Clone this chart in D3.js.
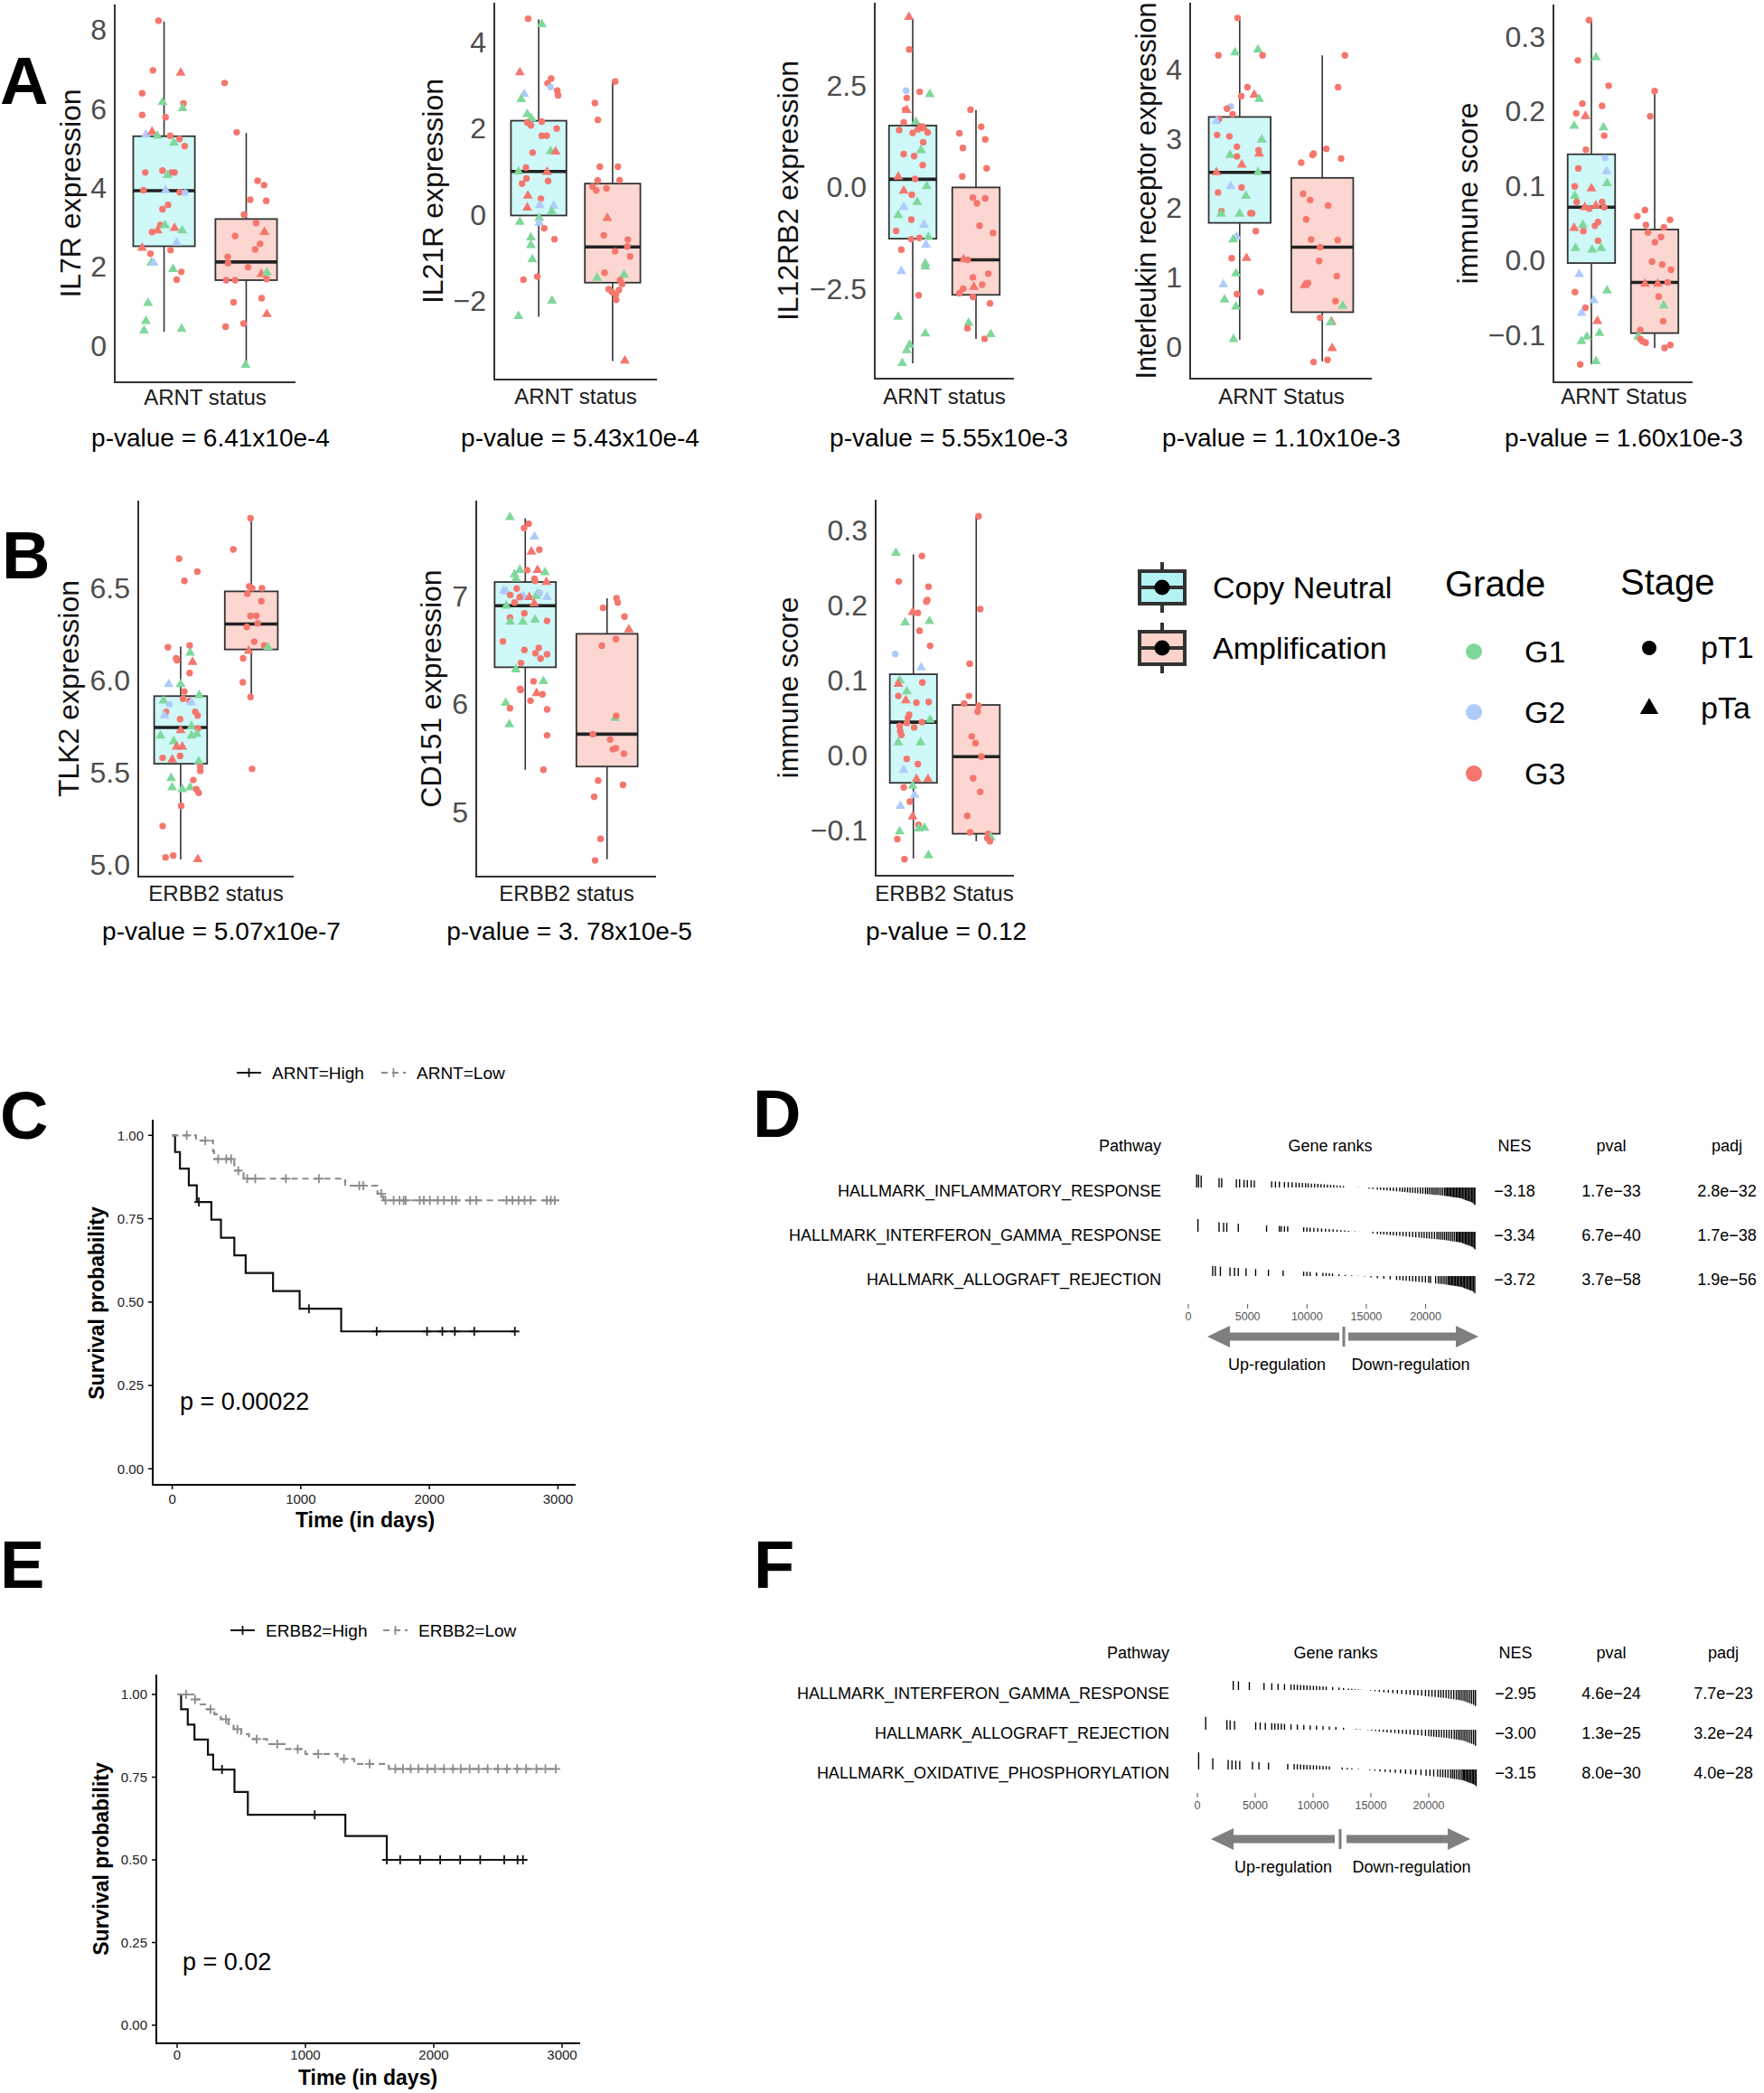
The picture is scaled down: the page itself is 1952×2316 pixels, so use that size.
<!DOCTYPE html>
<html>
<head>
<meta charset="utf-8">
<script src="https://cdn.jsdelivr.net/npm/d3@7"></script>
<style>
  body { margin: 0; background: #fff; }
  svg text { font-family: "Liberation Sans", Arial, sans-serif; }
</style>
</head>
<body>
<div id="fig"></div>
<script>
// ---------- data: box plots (point = [jitter in box half-widths, value, grade+stage]) ----------
const statusNames = ["Copy Neutral", "Amplification"];
const gradeNames = ["G1", "G2", "G3"];
const stageNames = ["pT1", "pTa"];

// box stats: [lower whisker, q1, median, q3, upper whisker]
const il7rBox = [[0.34, 2.51, 3.92, 5.30, 8.21], [-0.50, 1.65, 2.11, 3.20, 5.38]];
const il21rBox = [[-2.38, -0.03, 0.99, 2.17, 4.52], [-3.41, -1.59, -0.76, 0.71, 3.09]];
const il12rb2Box = [[-4.33, -1.27, 0.19, 1.51, 4.14], [-3.73, -2.65, -1.79, -0.01, 1.89]];
const ilrBox = [[0.09, 1.78, 2.51, 3.31, 4.74], [-0.22, 0.49, 1.43, 2.43, 4.20]];
const immArntBox = [[-0.140, -0.004, 0.071, 0.142, 0.322], [-0.118, -0.098, -0.030, 0.041, 0.227]];
const tlk2Box = [[5.029, 5.548, 5.745, 5.915, 6.183], [5.910, 6.168, 6.306, 6.483, 6.874]];
const cd151Box = [[5.39, 6.34, 6.91, 7.13, 7.72], [4.56, 5.42, 5.72, 6.65, 6.98]];
const immErbbBox = [[-0.138, -0.037, 0.044, 0.108, 0.268], [-0.115, -0.105, -0.002, 0.067, 0.319]];

const il7rCN = [[-0.18,8.23,"3o"],[-0.36,6.97,"3o"],[0.54,6.91,"3t"],[-0.71,6.39,"3o"],[-0.05,6.16,"1t"],[0.63,6.13,"3o"],[0.60,6.01,"1t"],[-0.71,5.84,"3o"],[0.05,5.78,"3o"],[-0.59,5.34,"2t"],[-0.39,5.41,"3t"],[-0.22,5.31,"1t"],[0.20,5.31,"3o"],[0.50,5.23,"3o"],[0.32,5.13,"1t"],[0.67,5.05,"3o"],[-0.61,4.38,"3o"],[-0.05,4.43,"3o"],[0.24,4.38,"3o"],[0.34,4.38,"3o"],[0.11,4.31,"1t"],[-0.67,3.93,"3o"],[0.05,3.93,"2t"],[0.51,3.88,"3o"],[0.68,3.87,"2o"],[0.13,3.56,"3o"],[-0.05,3.45,"3o"],[-0.12,3.05,"3o"],[0.03,3.04,"1t"],[-0.21,2.91,"3t"],[-0.39,2.87,"3o"],[0.34,2.97,"3t"],[0.59,2.91,"1t"],[0.41,2.60,"2t"],[-0.71,2.47,"3t"],[0.21,2.41,"3o"],[-0.44,2.32,"3o"],[-0.41,2.09,"1t"],[-0.34,2.09,"2t"],[0.29,1.93,"1t"],[0.56,1.86,"3o"],[0.41,1.66,"3o"],[-0.52,1.07,"1t"],[-0.59,0.61,"1t"],[-0.65,0.37,"1t"],[0.57,0.41,"1t"]];
const il7rAmp = [[-0.70,6.65,"3o"],[-0.31,5.40,"3o"],[0.37,4.17,"3o"],[0.58,4.06,"3o"],[0.13,3.69,"3o"],[0.65,3.66,"3o"],[-0.07,3.31,"3o"],[0.32,3.10,"3o"],[0.59,2.87,"3t"],[-0.36,2.77,"3o"],[0.45,2.57,"3o"],[0.29,2.43,"3o"],[-0.60,2.24,"3o"],[-0.59,2.08,"3o"],[0.06,1.98,"3o"],[0.49,1.80,"3t"],[0.67,1.84,"1t"],[-0.65,1.65,"3o"],[-0.36,1.65,"3o"],[0.66,1.68,"3o"],[-0.41,1.09,"3o"],[0.50,1.19,"3o"],[0.67,0.79,"3t"],[-0.67,0.47,"3o"],[-0.09,0.55,"3o"],[-0.02,-0.50,"1t"]];

const il21rCN = [[-0.38,4.54,"3o"],[0.11,4.41,"1t"],[-0.68,3.29,"3t"],[0.32,3.04,"3o"],[0.45,3.15,"3o"],[0.43,2.95,"2o"],[0.67,2.87,"3o"],[0.70,2.76,"3o"],[-0.52,2.79,"2t"],[-0.63,2.67,"1t"],[-0.41,2.32,"1t"],[-0.27,2.23,"1t"],[-0.41,2.13,"3o"],[-0.28,2.06,"3o"],[0.11,2.15,"3o"],[0.65,1.99,"3o"],[0.11,1.82,"3o"],[0.29,1.82,"3o"],[-0.22,1.43,"3o"],[0.43,1.46,"1t"],[0.61,1.45,"3t"],[-0.46,1.08,"3o"],[-0.73,0.99,"1t"],[0.30,0.98,"3t"],[-0.44,0.83,"3o"],[-0.60,0.71,"3o"],[0.34,0.77,"3o"],[-0.39,0.43,"3t"],[0.08,0.36,"3o"],[-0.41,0.15,"3t"],[0.04,0.21,"2t"],[0.54,0.19,"2t"],[0.47,0.06,"1t"],[0.02,-0.09,"1t"],[0.02,-0.20,"2t"],[-0.68,-0.18,"1t"],[0.20,-0.33,"3o"],[-0.28,-0.54,"1t"],[0.57,-0.58,"3o"],[-0.28,-0.72,"1t"],[-0.23,-1.05,"1t"],[-0.05,-1.45,"3o"],[-0.55,-1.52,"3o"],[0.48,-2.01,"1t"],[-0.73,-2.37,"1t"]];
const il21rAmp = [[0.09,3.08,"3o"],[-0.64,2.58,"3o"],[-0.53,2.19,"3o"],[-0.46,1.10,"3o"],[0.19,1.10,"3o"],[-0.54,0.78,"3o"],[0.25,0.79,"3o"],[-0.72,0.64,"3o"],[-0.59,0.55,"3o"],[-0.22,0.60,"3o"],[-0.19,-0.09,"3t"],[-0.32,-0.49,"3o"],[0.55,-0.59,"3o"],[0.53,-0.75,"3o"],[0.09,-0.86,"3o"],[0.63,-0.98,"3o"],[-0.29,-1.36,"3o"],[0.41,-1.41,"1t"],[-0.56,-1.48,"1t"],[0.27,-1.53,"3o"],[0.34,-1.62,"3o"],[-0.14,-1.74,"3o"],[-0.02,-1.81,"3o"],[0.23,-1.76,"3o"],[0.12,-1.87,"3o"],[0.13,-1.99,"3o"],[0.44,-3.40,"3t"]];

const il12rb2CN = [[-0.16,4.18,"3t"],[-0.15,3.38,"3o"],[-0.28,2.37,"2o"],[0.29,2.34,"3o"],[0.72,2.28,"1t"],[-0.25,2.19,"3o"],[-0.32,1.90,"3o"],[-0.25,1.89,"3t"],[0.13,1.60,"1t"],[-0.38,1.59,"3o"],[0.35,1.49,"3o"],[-0.57,1.40,"3o"],[0.0,1.33,"3o"],[0.22,1.42,"3o"],[0.48,1.44,"3t"],[0.63,1.34,"3o"],[0.44,1.10,"3o"],[0.35,0.90,"1t"],[-0.38,0.81,"3o"],[0.06,0.76,"3o"],[0.42,0.54,"3o"],[-0.61,0.25,"3t"],[0.10,0.20,"3o"],[0.59,0.02,"1t"],[-0.38,-0.09,"3t"],[-0.04,-0.19,"3o"],[0.19,-0.37,"1t"],[-0.38,-0.49,"2t"],[-0.61,-0.69,"1t"],[-0.06,-0.80,"3o"],[0.47,-0.93,"2t"],[-0.70,-1.08,"3o"],[-0.06,-1.28,"3o"],[0.28,-1.25,"3o"],[0.66,-1.23,"1t"],[-0.48,-1.54,"3o"],[0.56,-1.42,"2t"],[0.53,-1.88,"1t"],[0.53,-1.96,"1t"],[-0.48,-2.07,"2t"],[0.25,-2.66,"3o"],[-0.61,-3.19,"1t"],[0.53,-3.60,"1t"],[-0.13,-3.88,"1t"],[-0.25,-4.01,"1t"],[-0.44,-4.33,"1t"]];
const il12rb2Amp = [[-0.23,1.90,"3o"],[0.22,1.48,"3o"],[-0.70,1.32,"3o"],[0.39,1.17,"3o"],[-0.55,0.96,"3o"],[0.45,0.46,"3o"],[-0.58,0.26,"3o"],[-0.13,-0.26,"3o"],[0.04,-0.40,"3o"],[0.39,-0.28,"3o"],[0.15,-0.95,"3o"],[0.72,-1.13,"3o"],[-0.52,-1.78,"3t"],[-0.35,-1.79,"3o"],[0.52,-2.13,"3o"],[-0.13,-2.22,"3o"],[0.26,-2.40,"3o"],[-0.09,-2.46,"3t"],[-0.54,-2.50,"3o"],[-0.70,-2.61,"3o"],[-0.13,-2.70,"3o"],[0.59,-2.86,"3o"],[-0.31,-3.34,"1t"],[-0.36,-3.47,"3o"],[0.36,-3.73,"3o"],[0.62,-3.62,"1t"]];

const ilrCN = [[-0.07,4.74,"3o"],[-0.69,4.20,"3o"],[-0.15,4.24,"1t"],[0.59,4.28,"1t"],[0.74,4.20,"3o"],[0.25,3.74,"3o"],[0.05,3.61,"3o"],[0.47,3.63,"3t"],[0.63,3.57,"1t"],[-0.29,3.46,"2o"],[-0.41,3.43,"3o"],[-0.23,3.35,"3o"],[-0.67,3.28,"3o"],[-0.75,3.25,"2t"],[-0.73,3.05,"3o"],[-0.33,3.03,"3o"],[0.71,2.98,"1t"],[-0.09,2.88,"3o"],[0.61,2.83,"3o"],[0.63,2.78,"3t"],[-0.31,2.76,"1t"],[-0.09,2.74,"3o"],[0.07,2.62,"3t"],[-0.75,2.51,"3t"],[0.59,2.51,"1t"],[-0.29,2.31,"2t"],[0.06,2.29,"3o"],[0.20,2.17,"1t"],[-0.70,2.22,"3o"],[-0.59,1.95,"3o"],[-0.60,1.91,"1t"],[0.0,1.91,"1t"],[0.35,1.92,"3o"],[0.40,1.92,"3o"],[0.52,1.66,"3o"],[-0.10,1.58,"2t"],[-0.21,1.54,"1t"],[-0.26,1.27,"3o"],[0.22,1.27,"3t"],[-0.12,1.05,"1t"],[-0.53,0.89,"2t"],[-0.09,0.75,"3o"],[0.68,0.78,"3o"],[-0.49,0.67,"1t"],[-0.12,0.57,"1t"],[-0.20,0.10,"1t"]];
const ilrAmp = [[0.73,4.20,"3o"],[0.51,3.74,"3o"],[0.13,2.85,"3o"],[-0.31,2.76,"3o"],[-0.28,2.78,"3o"],[-0.68,2.65,"3o"],[0.61,2.71,"3o"],[-0.62,2.20,"3o"],[-0.39,2.11,"3o"],[0.19,2.03,"3o"],[-0.52,1.83,"3o"],[-0.36,1.54,"3o"],[0.50,1.53,"3o"],[-0.07,1.43,"3o"],[-0.10,1.23,"3o"],[0.47,1.01,"3o"],[-0.46,0.91,"3o"],[-0.57,0.88,"3t"],[0.43,0.65,"3o"],[0.66,0.58,"1t"],[-0.07,0.41,"3o"],[0.30,0.35,"3t"],[0.27,0.34,"1t"],[0.32,-0.03,"3t"],[-0.28,-0.23,"3o"],[0.17,-0.20,"3o"]];

const immArntCN = [[-0.10,0.322,"3o"],[0.19,0.272,"1t"],[-0.57,0.268,"3o"],[0.73,0.234,"3o"],[-0.38,0.210,"3o"],[0.45,0.207,"3o"],[-0.64,0.197,"3o"],[-0.25,0.193,"3t"],[-0.73,0.180,"1t"],[0.51,0.178,"1t"],[0.54,0.167,"3o"],[-0.23,0.148,"3o"],[0.57,0.137,"2o"],[-0.55,0.123,"3o"],[0.64,0.119,"2t"],[0.66,0.103,"1t"],[-0.70,0.099,"3o"],[0.0,0.096,"3t"],[-0.70,0.086,"1t"],[-0.62,0.078,"3o"],[0.45,0.078,"3o"],[-0.28,0.071,"3t"],[-0.09,0.069,"3o"],[0.19,0.073,"3t"],[0.54,0.071,"3o"],[0.28,0.051,"3o"],[-0.36,0.047,"1t"],[0.15,0.046,"3o"],[-0.73,0.043,"3t"],[-0.34,0.039,"3o"],[0.28,0.026,"3o"],[-0.67,0.016,"1t"],[0.03,0.014,"1t"],[0.41,0.016,"1t"],[-0.51,-0.019,"2t"],[0.66,-0.041,"1t"],[-0.69,-0.043,"3o"],[0.10,-0.054,"2t"],[-0.25,-0.064,"3o"],[-0.41,-0.071,"2t"],[0.25,-0.082,"3t"],[0.34,-0.098,"1t"],[-0.19,-0.103,"1t"],[-0.42,-0.109,"1t"],[-0.47,-0.140,"3o"],[0.19,-0.136,"1t"]];
const immArntAmp = [[0.0,0.227,"3o"],[-0.19,0.193,"3o"],[-0.41,0.067,"3o"],[-0.73,0.059,"3o"],[0.65,0.054,"3o"],[-0.37,0.047,"3o"],[0.39,0.044,"3o"],[-0.28,0.037,"3o"],[0.27,0.031,"3o"],[0.01,0.024,"3o"],[-0.11,-0.002,"3o"],[0.32,-0.006,"3o"],[0.69,-0.013,"3o"],[-0.41,-0.032,"3t"],[0.13,-0.032,"3t"],[0.55,-0.030,"3o"],[0.17,-0.049,"3o"],[0.38,-0.061,"1t"],[0.36,-0.082,"3o"],[-0.61,-0.094,"3o"],[-0.70,-0.103,"1t"],[-0.60,-0.106,"3o"],[-0.50,-0.109,"3o"],[-0.38,-0.111,"3o"],[0.42,-0.118,"3o"],[0.66,-0.114,"3o"]];

const tlk2CN = [[-0.06,6.66,"3o"],[0.63,6.59,"3o"],[0.14,6.54,"3o"],[-0.48,6.18,"3o"],[0.34,6.19,"3o"],[-0.17,6.12,"3o"],[-0.14,6.11,"3o"],[0.36,6.15,"1t"],[0.45,6.10,"3t"],[0.34,6.04,"3o"],[-0.45,5.98,"2t"],[0.0,5.98,"1t"],[0.14,5.94,"3o"],[0.70,5.92,"1t"],[-0.65,5.89,"1t"],[0.09,5.90,"3o"],[0.34,5.89,"3o"],[0.40,5.88,"2t"],[-0.43,5.87,"2o"],[-0.55,5.83,"3o"],[-0.61,5.81,"2t"],[0.55,5.83,"3o"],[0.64,5.81,"3o"],[-0.02,5.79,"3o"],[0.0,5.73,"3t"],[0.41,5.75,"1t"],[0.65,5.74,"3o"],[-0.76,5.70,"1t"],[-0.26,5.67,"1t"],[0.41,5.70,"1t"],[0.61,5.71,"1t"],[-0.15,5.64,"3t"],[0.06,5.64,"3t"],[-0.02,5.59,"3o"],[-0.68,5.58,"3o"],[-0.32,5.57,"3t"],[0.68,5.56,"1t"],[0.74,5.53,"3o"],[0.74,5.51,"3o"],[-0.36,5.47,"1t"],[-0.32,5.42,"1t"],[0.06,5.41,"1t"],[0.36,5.42,"1t"],[0.48,5.46,"3o"],[0.59,5.41,"3o"],[0.68,5.39,"3o"],[0.02,5.32,"3o"],[-0.68,5.21,"3o"],[-0.57,5.04,"3o"],[-0.28,5.05,"3o"],[0.65,5.03,"3t"]];
const tlk2Amp = [[-0.03,6.88,"3o"],[-0.68,6.71,"3o"],[-0.08,6.51,"3o"],[0.03,6.50,"3o"],[0.40,6.50,"3o"],[-0.15,6.47,"3o"],[0.38,6.43,"3o"],[-0.03,6.35,"3o"],[0.19,6.35,"3o"],[-0.17,6.29,"3o"],[0.24,6.31,"3o"],[0.11,6.21,"3o"],[0.49,6.19,"3o"],[0.63,6.18,"1t"],[-0.10,6.16,"3t"],[-0.31,6.12,"3o"],[-0.32,5.99,"3o"],[-0.03,5.91,"3o"],[0.03,5.52,"3o"]];

const cd151CN = [[-0.50,7.73,"1t"],[0.11,7.67,"3o"],[-0.04,7.63,"3o"],[0.30,7.55,"2t"],[0.46,7.43,"3o"],[0.20,7.41,"3t"],[0.06,7.24,"3o"],[-0.18,7.24,"1t"],[-0.35,7.20,"1t"],[0.64,7.22,"1t"],[0.40,7.24,"3t"],[-0.30,7.16,"1t"],[0.30,7.16,"3o"],[0.32,7.14,"3o"],[0.69,7.13,"3t"],[-0.28,7.07,"3o"],[-0.70,7.05,"2t"],[-0.62,7.04,"2t"],[-0.49,7.01,"3o"],[-0.16,6.99,"2t"],[-0.06,7.00,"2t"],[-0.18,6.99,"3o"],[0.13,6.99,"3t"],[0.35,7.00,"1t"],[0.40,7.02,"1t"],[0.47,7.03,"2o"],[0.71,6.99,"2t"],[-0.35,6.94,"3o"],[0.29,6.93,"3t"],[-0.62,6.91,"1t"],[-0.03,6.84,"3o"],[-0.50,6.80,"3o"],[-0.49,6.76,"1t"],[-0.08,6.76,"1t"],[0.32,6.78,"1t"],[0.71,6.77,"3o"],[-0.73,6.58,"3o"],[-0.03,6.50,"3o"],[0.44,6.52,"3o"],[0.33,6.47,"3o"],[0.50,6.42,"3o"],[0.71,6.46,"3o"],[-0.14,6.38,"3o"],[-0.31,6.32,"1t"],[0.27,6.21,"3o"],[0.59,6.21,"1t"],[-0.17,6.14,"3o"],[-0.15,6.13,"3o"],[0.37,6.10,"3t"],[0.56,6.09,"3o"],[0.17,6.03,"3o"],[-0.64,6.01,"1t"],[-0.50,5.96,"3o"],[0.71,5.95,"3o"],[-0.52,5.81,"1t"],[0.71,5.71,"3o"],[0.59,5.39,"3o"]];
const cd151Amp = [[0.31,6.98,"3o"],[0.35,6.94,"3o"],[-0.13,6.89,"3o"],[0.57,6.81,"3o"],[0.71,6.69,"3t"],[0.29,6.60,"3o"],[-0.17,6.54,"3o"],[0.26,5.87,"1t"],[0.30,5.89,"3o"],[-0.46,5.72,"3o"],[0.10,5.67,"3o"],[0.19,5.58,"3o"],[0.29,5.59,"3o"],[0.55,5.54,"3o"],[-0.29,5.29,"3o"],[0.52,5.25,"3o"],[-0.42,5.14,"3o"],[-0.21,4.75,"3o"],[-0.39,4.55,"3o"]];

const immErbbCN = [[-0.74,0.270,"1t"],[0.36,0.266,"3o"],[-0.62,0.232,"3o"],[0.64,0.225,"3o"],[0.59,0.207,"3o"],[0.55,0.205,"3o"],[-0.03,0.191,"3t"],[0.19,0.190,"3o"],[-0.35,0.177,"1t"],[0.68,0.179,"1t"],[0.26,0.166,"3o"],[0.71,0.146,"3o"],[-0.77,0.135,"2o"],[0.33,0.117,"2t"],[-0.58,0.100,"1t"],[-0.64,0.095,"3t"],[0.38,0.097,"3o"],[-0.28,0.085,"1t"],[-0.64,0.079,"3o"],[-0.32,0.073,"3t"],[0.13,0.070,"3o"],[0.65,0.071,"3o"],[-0.18,0.054,"3o"],[-0.23,0.050,"3o"],[0.71,0.047,"1t"],[0.36,0.044,"3o"],[-0.28,0.043,"3o"],[-0.58,0.039,"3o"],[0.03,0.037,"3o"],[-0.56,0.032,"3o"],[-0.51,0.027,"3o"],[-0.64,0.017,"1t"],[0.31,0.017,"1t"],[-0.28,-0.005,"3o"],[0.19,-0.012,"3o"],[-0.41,-0.020,"2t"],[0.13,-0.032,"3t"],[0.62,-0.032,"3t"],[-0.41,-0.043,"3o"],[-0.03,-0.041,"1t"],[0.05,-0.053,"2t"],[-0.15,-0.062,"3o"],[-0.55,-0.068,"2t"],[-0.03,-0.082,"3t"],[0.22,-0.093,"3o"],[0.23,-0.098,"1t"],[0.47,-0.097,"1t"],[-0.58,-0.102,"1t"],[-0.68,-0.112,"3o"],[0.64,-0.134,"1t"],[-0.38,-0.139,"3o"]];
const immErbbAmp = [[0.10,0.319,"3o"],[0.17,0.195,"3o"],[-0.28,0.122,"3o"],[-0.31,0.079,"3o"],[-0.51,0.069,"3o"],[0.10,0.066,"3o"],[0.06,0.058,"3o"],[-0.19,0.025,"3o"],[-0.03,0.016,"3o"],[0.22,-0.002,"3o"],[-0.13,-0.031,"3o"],[0.17,-0.049,"3o"],[-0.38,-0.081,"3o"],[-0.26,-0.103,"3o"],[0.51,-0.105,"3o"],[0.62,-0.110,"1t"],[0.47,-0.111,"3o"],[0.58,-0.115,"3o"]];

// tick labels
const il7rTicks = [0, 2, 4, 6, 8];
const il21rTicks = [-2, 0, 2, 4];
const il12rb2Ticks = [-2.5, 0, 2.5];
const ilrTicks = [0, 1, 2, 3, 4];
const immTicks = [-0.1, 0, 0.1, 0.2, 0.3];
const tlk2Ticks = [5.0, 5.5, 6.0, 6.5];
const cd151Ticks = [5, 6, 7];

// ---------- data: survival ----------
const arntHighT = [22, 60, 129, 191, 304, 379, 483, 571, 784, 991, 1314];
const arntHighS = [0.95, 0.90, 0.85, 0.80, 0.747, 0.693, 0.64, 0.587, 0.533, 0.48, 0.412];
const arntHighCens = [207, 1063, 1590, 1982, 2101, 2198, 2349, 2665];
const arntLowT = [185, 317, 325, 483, 555, 1345, 1596, 1643];
const arntLowS = [0.984, 0.953, 0.929, 0.894, 0.870, 0.849, 0.825, 0.805];
const arntLowCens = [113, 257, 357, 420, 458, 514, 583, 646, 884, 1141, 1455, 1486, 1627, 1659, 1722, 1768, 1800, 1816, 1925, 1957, 2004, 2066, 2113, 2176, 2207, 2317, 2365, 2600, 2647, 2694, 2741, 2788, 2913, 2945, 2976];

const erbbHighT = [31, 83, 135, 240, 281, 447, 551, 1311, 1634];
const erbbHighS = [0.955, 0.909, 0.864, 0.818, 0.773, 0.705, 0.636, 0.572, 0.50];
const erbbHighCens = [350, 1072, 1634, 1738, 1894, 2050, 2206, 2362, 2549, 2653, 2695];
const erbbLowT = [130, 175, 230, 290, 340, 400, 440, 500, 560, 700, 850, 1000, 1250, 1380, 1650];
const erbbLowS = [0.985, 0.97, 0.955, 0.94, 0.925, 0.91, 0.895, 0.88, 0.865, 0.85, 0.835, 0.82, 0.805, 0.79, 0.775];
const erbbLowCens = [70, 140, 260, 380, 470, 620, 780, 940, 1100, 1300, 1500, 1700, 1760, 1820, 1880, 1950, 2010, 2080, 2150, 2210, 2280, 2350, 2420, 2500, 2570, 2650, 2720, 2800, 2870, 2950];

const survTicks = [0, 0.25, 0.5, 0.75, 1];
const timeTicks = [0, 1000, 2000, 3000];

// ---------- data: fgsea tables ----------
const rankTicks = [0, 5000, 10000, 15000, 20000];
const rankKnots = [0, 500, 1500, 3000, 6000, 9000, 12000, 13500, 14500, 16000, 19000, 21500, 23000, 24000, 24250];
const statKnots = [2.0, 1.5, 1.2, 1.0, 0.75, 0.55, 0.3, 0.1, 0, -0.25, -0.6, -0.9, -1.2, -1.7, -2.1];

const dPathways = ["HALLMARK_INFLAMMATORY_RESPONSE", "HALLMARK_INTERFERON_GAMMA_RESPONSE", "HALLMARK_ALLOGRAFT_REJECTION"];
const dNES = ["\u22123.18", "\u22123.34", "\u22123.72"];
const dPval = ["1.7e\u221233", "6.7e\u221240", "3.7e\u221258"];
const dPadj = ["2.8e\u221232", "1.7e\u221238", "1.9e\u221256"];
const dRanks = [
  [700,860,1080,2590,2810,4050,4320,4700,4970,5290,5560,7020,7340,7670,8100,8420,8750,9070,9340,9610,9880,10100,10370,10640,10910,11180,11450,11720,11990,12260,12530,12800,13070,14310,15230,15550,15930,16200,16470,16740,17010,17280,17550,17820,18040,18250,18470,18680,18900,19120,19330,19550,19760,19980,20140,20300,20470,20630,20790,20950,21110,21280,21440,21600,21710,21820,21920,22030,22140,22250,22360,22460,22570,22680,22790,22900,23000,23110,23220,23330,23440,23540,23650,23760,23870,23980,24080,24150],
  [810,2590,2970,3240,4210,6590,7670,7830,8100,8370,9720,9990,10260,10580,10910,11230,11560,11880,12200,12530,12850,13180,13500,14040,14360,15550,15930,16200,16470,16740,17010,17280,17550,17820,18090,18360,18630,18900,19170,19440,19660,19870,20090,20300,20520,20740,20950,21110,21280,21440,21600,21760,21920,22090,22250,22410,22570,22680,22790,22900,23000,23110,23220,23330,23440,23540,23650,23760,23870,23980,24080,24150],
  [2050,2270,2700,3510,3890,4210,4860,5670,6750,7990,9720,9990,10260,10800,11340,11610,11880,12150,12690,13230,13770,14310,14850,15390,15930,16470,17010,17550,17820,18090,18360,18630,18900,19170,19440,19710,19980,20250,20410,20840,21060,21220,21380,21550,21710,21870,21980,22090,22190,22300,22410,22520,22630,22730,22840,22950,23060,23170,23270,23380,23490,23600,23710,23810,23920,24030,24140]
];

const fPathways = ["HALLMARK_INTERFERON_GAMMA_RESPONSE", "HALLMARK_ALLOGRAFT_REJECTION", "HALLMARK_OXIDATIVE_PHOSPHORYLATION"];
const fNES = ["\u22122.95", "\u22123.00", "\u22123.15"];
const fPval = ["4.6e\u221224", "1.3e\u221225", "8.0e\u221230"];
const fPadj = ["7.7e\u221223", "3.2e\u221224", "4.0e\u221228"];
const fRanks = [
  [3100,3550,4490,5760,6430,6980,7530,8090,8370,8640,8920,9200,9470,9750,10030,10300,10580,10860,11140,11690,12240,12630,13070,13350,13630,13910,14180,14570,14960,15350,15730,16120,16510,16900,17290,17670,18060,18390,18730,19060,19390,19720,20000,20280,20550,20830,21050,21270,21500,21720,21940,22160,22380,22550,22710,22880,23050,23210,23380,23550,23710,23880,24040],
  [720,2550,2830,3210,5040,5430,5870,6430,6700,6980,7260,7530,8090,8640,9200,9750,10300,10860,11410,11970,12630,13740,14070,14400,14740,15070,15400,15730,16070,16400,16730,17070,17400,17730,18060,18390,18730,19060,19390,19720,20000,20220,20440,20660,20880,21100,21320,21540,21760,21980,22200,22380,22550,22710,22880,23050,23210,23380,23550,23710,23880,24040],
  [110,1330,2660,2990,3320,3660,4760,5320,6150,7810,8370,8640,8920,9200,9470,9750,10030,10300,10580,10860,11140,11410,12520,12960,13350,13910,14460,14900,15350,15790,16230,16670,17110,17560,18000,18440,18880,19330,19770,20100,20430,20770,21000,21220,21440,21660,21880,22050,22210,22380,22550,22710,22880,22990,23100,23210,23320,23430,23540,23660,23770,23880,23990,24100]
];

// ---------- drawing ----------
const W = 1952, H = 2316;
const svg = d3.select("#fig").append("svg").attr("width", W).attr("height", H);
svg.append("rect").attr("width", W).attr("height", H).attr("fill", "#fff");

const gradeColor = { "1": "#7fd89b", "2": "#aecbfa", "3": "#f4766d" };
const boxFill = ["#cff8f8", "#fcd6d0"];
const keyFill = ["#b3f3f3", "#fdd2ca"];
const triangle = d3.symbol().type(d3.symbolTriangle).size(52);

function drawBoxPanel(p) {
	let g = svg.append("g");
	let x = d3.scalePoint().domain([0, 1]).range([p.x0, p.x1]).padding(0.6);
	let y = d3.scaleLinear().domain(p.dom).range([p.bottom, p.top]);
	let bw = x.step() * 0.75;

	// boxes
	p.box.forEach((b, i) => {
		let cx = x(i);
		g.append("line").attr("x1", cx).attr("x2", cx).attr("y1", y(b[3])).attr("y2", y(b[4]))
			.attr("stroke", "#333").attr("stroke-width", 1.6);
		g.append("line").attr("x1", cx).attr("x2", cx).attr("y1", y(b[0])).attr("y2", y(b[1]))
			.attr("stroke", "#333").attr("stroke-width", 1.6);
		g.append("rect").attr("x", cx - bw / 2).attr("y", y(b[3]))
			.attr("width", bw).attr("height", y(b[1]) - y(b[3]))
			.attr("fill", boxFill[i]).attr("stroke", "#333").attr("stroke-width", 1.8);
		g.append("line").attr("x1", cx - bw / 2).attr("x2", cx + bw / 2).attr("y1", y(b[2])).attr("y2", y(b[2]))
			.attr("stroke", "#222").attr("stroke-width", 3.6);
	});

	// jittered points
	[p.cn, p.amp].forEach((pts, i) => {
		let cx = x(i);
		pts.forEach(d => {
			let px = cx + d[0] * bw / 2, py = y(d[1]);
			let col = gradeColor[d[2][0]];
			if (d[2][1] === "o") {
				g.append("circle").attr("cx", px).attr("cy", py).attr("r", 3.7).attr("fill", col);
			} else {
				g.append("path").attr("d", triangle).attr("transform", `translate(${px},${py})`).attr("fill", col);
			}
		});
	});

	// axes
	g.append("line").attr("x1", p.x0).attr("x2", p.x0).attr("y1", p.top).attr("y2", p.bottom)
		.attr("stroke", "#333").attr("stroke-width", 2);
	g.append("line").attr("x1", p.x0 - 1).attr("x2", p.x1).attr("y1", p.bottom).attr("y2", p.bottom)
		.attr("stroke", "#333").attr("stroke-width", 2);

	g.selectAll("text.tk").data(p.ticks).enter().append("text")
		.attr("class", "tk")
		.attr("x", p.x0 - 9).attr("y", d => y(d)).attr("dy", "0.36em")
		.attr("text-anchor", "end").attr("fill", "#4d4d4d").attr("font-size", 32)
		.text(d3.format(p.fmt));

	g.append("text").attr("transform", `translate(${p.titleX},${(p.top + p.bottom) / 2}) rotate(-90)`)
		.attr("text-anchor", "middle").attr("font-size", p.titleSize || 32).attr("fill", "#111")
		.text(p.yTitle);
	g.append("text").attr("x", p.xTitleX).attr("y", p.xTitleY).attr("text-anchor", "middle")
		.attr("font-size", 24).attr("fill", "#1a1a1a").text(p.xTitle);
	g.append("text").attr("x", p.pX).attr("y", p.pY).attr("text-anchor", "middle")
		.attr("font-family", "Lato, 'Open Sans', sans-serif").attr("font-size", 28).attr("fill", "#000")
		.text(p.pText);
}

const panels = [
	{ x0: 127, x1: 327, top: 5, bottom: 423, dom: [-0.94, 8.64], ticks: il7rTicks, fmt: "d", box: il7rBox, cn: il7rCN, amp: il7rAmp,
	  yTitle: "IL7R expression", titleX: 89, xTitle: "ARNT status", xTitleX: 227, xTitleY: 448, pText: "p-value = 6.41x10e-4", pX: 233, pY: 494 },
	{ x0: 547, x1: 727, top: 3, bottom: 420, dom: [-3.84, 4.91], ticks: il21rTicks, fmt: "d", box: il21rBox, cn: il21rCN, amp: il21rAmp,
	  yTitle: "IL21R expression", titleX: 490, xTitle: "ARNT status", xTitleX: 637, xTitleY: 447, pText: "p-value = 5.43x10e-4", pX: 642, pY: 494 },
	{ x0: 968, x1: 1122, top: 3, bottom: 419, dom: [-4.71, 4.53], ticks: il12rb2Ticks, fmt: ".1f", box: il12rb2Box, cn: il12rb2CN, amp: il12rb2Amp,
	  yTitle: "IL12RB2 expression", titleX: 883, xTitle: "ARNT status", xTitleX: 1045, xTitleY: 447, pText: "p-value = 5.55x10e-3", pX: 1050, pY: 494 },
	{ x0: 1317, x1: 1518, top: 3, bottom: 419, dom: [-0.47, 4.96], ticks: ilrTicks, fmt: "d", box: ilrBox, cn: ilrCN, amp: ilrAmp,
	  yTitle: "Interleukin receptor expression", titleSize: 30.5, titleX: 1279, xTitle: "ARNT Status", xTitleX: 1418, xTitleY: 447, pText: "p-value = 1.10x10e-3", pX: 1418, pY: 494 },
	{ x0: 1719, x1: 1873, top: 5, bottom: 423, dom: [-0.164, 0.343], ticks: immTicks, fmt: ".1f", box: immArntBox, cn: immArntCN, amp: immArntAmp,
	  yTitle: "immune score", titleX: 1635, xTitle: "ARNT Status", xTitleX: 1797, xTitleY: 447, pText: "p-value = 1.60x10e-3", pX: 1797, pY: 494 },
	{ x0: 153, x1: 325, top: 554, bottom: 970, dom: [4.936, 6.975], ticks: tlk2Ticks, fmt: ".1f", box: tlk2Box, cn: tlk2CN, amp: tlk2Amp,
	  yTitle: "TLK2 expression", titleX: 87, xTitle: "ERBB2 status", xTitleX: 239, xTitleY: 997, pText: "p-value = 5.07x10e-7", pX: 245, pY: 1040 },
	{ x0: 527, x1: 726, top: 554, bottom: 970, dom: [4.40, 7.884], ticks: cd151Ticks, fmt: "d", box: cd151Box, cn: cd151CN, amp: cd151Amp,
	  yTitle: "CD151 expression", titleX: 488, xTitle: "ERBB2 status", xTitleX: 627, xTitleY: 997, pText: "p-value = 3. 78x10e-5", pX: 630, pY: 1040 },
	{ x0: 969, x1: 1122, top: 553, bottom: 969, dom: [-0.161, 0.341], ticks: immTicks, fmt: ".1f", box: immErbbBox, cn: immErbbCN, amp: immErbbAmp,
	  yTitle: "immune score", titleX: 883, xTitle: "ERBB2 Status", xTitleX: 1045, xTitleY: 997, pText: "p-value = 0.12", pX: 1047, pY: 1040 }
];
panels.forEach(drawBoxPanel);

// ---------- legend for box plots ----------
let leg = svg.append("g");
statusNames.forEach((name, i) => {
	let cy = [650, 717][i];
	leg.append("line").attr("x1", 1286).attr("x2", 1286).attr("y1", cy - 28).attr("y2", cy + 28)
		.attr("stroke", "#333").attr("stroke-width", 4);
	leg.append("rect").attr("x", 1261).attr("y", cy - 18).attr("width", 50).attr("height", 36)
		.attr("fill", keyFill[i]).attr("stroke", "#333").attr("stroke-width", 4);
	leg.append("line").attr("x1", 1261).attr("x2", 1311).attr("y1", cy).attr("y2", cy)
		.attr("stroke", "#333").attr("stroke-width", 4);
	leg.append("circle").attr("cx", 1286).attr("cy", cy).attr("r", 8.5).attr("fill", "#000");
	leg.append("text").attr("x", 1342).attr("y", cy + 12).attr("font-size", 34).text(name);
});
leg.append("text").attr("x", 1599).attr("y", 660).attr("font-size", 40).text("Grade");
gradeNames.forEach((name, i) => {
	let cy = [721, 788, 856][i];
	leg.append("circle").attr("cx", 1631).attr("cy", cy).attr("r", 9).attr("fill", gradeColor[String(i + 1)]);
	leg.append("text").attr("x", 1687).attr("y", cy + 12).attr("font-size", 34).text(name);
});
leg.append("text").attr("x", 1793).attr("y", 658).attr("font-size", 40).text("Stage");
leg.append("circle").attr("cx", 1825).attr("cy", 717).attr("r", 8).attr("fill", "#000");
leg.append("path").attr("d", d3.symbol().type(d3.symbolTriangle).size(180)).attr("transform", "translate(1825,784)").attr("fill", "#000");
stageNames.forEach((name, i) => {
	leg.append("text").attr("x", 1882).attr("y", [728, 795][i]).attr("font-size", 34).text(name);
});

// ---------- Kaplan-Meier panels ----------
function stepPoints(ts, ss, tEnd) {
	let pts = [[0, 1]];
	ts.forEach((t, i) => pts.push([t, ss[i]]));
	pts.push([tEnd, ss[ss.length - 1]]);
	return pts;
}
function survAt(ts, ss, t) {
	let i = d3.bisectRight(ts, t);
	return i === 0 ? 1 : ss[i - 1];
}

function drawKM(k) {
	let g = svg.append("g");
	let x = d3.scaleLinear().domain([0, 3000]).range(k.xr);
	let y = d3.scaleLinear().domain([0, 1]).range(k.yr);
	let line = d3.line().x(d => x(d[0])).y(d => y(d[1])).curve(d3.curveStepAfter);

	k.curves.forEach(c => {
		let tEnd = d3.max(c.cens);
		g.append("path").attr("d", line(stepPoints(c.t, c.s, tEnd)))
			.attr("fill", "none").attr("stroke", c.color).attr("stroke-width", 2.2)
			.attr("stroke-dasharray", c.dash);
		c.cens.forEach(t => {
			let cx = x(t), cy = y(survAt(c.t, c.s, t));
			g.append("path").attr("d", `M${cx - 5},${cy}H${cx + 5}M${cx},${cy - 5}V${cy + 5}`)
				.attr("stroke", c.color).attr("stroke-width", 1.8);
		});
	});

	// axes
	g.append("line").attr("x1", k.ax).attr("x2", k.ax).attr("y1", k.top).attr("y2", k.axY + 1)
		.attr("stroke", "#000").attr("stroke-width", 2);
	g.append("line").attr("x1", k.ax).attr("x2", k.axEnd).attr("y1", k.axY).attr("y2", k.axY)
		.attr("stroke", "#000").attr("stroke-width", 2);
	survTicks.forEach(v => {
		g.append("line").attr("x1", k.ax - 5).attr("x2", k.ax).attr("y1", y(v)).attr("y2", y(v))
			.attr("stroke", "#000").attr("stroke-width", 1.5);
		g.append("text").attr("x", k.ax - 10).attr("y", y(v)).attr("dy", "0.36em").attr("text-anchor", "end")
			.attr("font-size", 15).attr("fill", "#222").text(d3.format(".2f")(v));
	});
	timeTicks.forEach(t => {
		g.append("line").attr("x1", x(t)).attr("x2", x(t)).attr("y1", k.axY).attr("y2", k.axY + 5)
			.attr("stroke", "#000").attr("stroke-width", 1.5);
		g.append("text").attr("x", x(t)).attr("y", k.axY + k.tickOff).attr("text-anchor", "middle")
			.attr("font-size", 15).attr("fill", "#222").text(t);
	});
	g.append("text").attr("x", k.xTitleX).attr("y", k.xTitleY).attr("text-anchor", "middle")
		.attr("font-size", 23).attr("font-weight", "bold").text("Time (in days)");
	g.append("text").attr("transform", `translate(${k.yTitleX},${k.yTitleY}) rotate(-90)`)
		.attr("text-anchor", "middle").attr("font-size", 23).attr("font-weight", "bold").text("Survival probability");
	g.append("text").attr("x", k.pX).attr("y", k.pY).attr("font-size", 27).text(k.pText);

	// legend
	k.curves.forEach((c, i) => {
		let lx = k.legX[i];
		g.append("line").attr("x1", lx).attr("x2", lx + 27).attr("y1", k.legY).attr("y2", k.legY)
			.attr("stroke", c.color).attr("stroke-width", 2).attr("stroke-dasharray", c.dash);
		g.append("path").attr("d", `M${lx + 13.5},${k.legY - 5}V${k.legY + 5}`).attr("stroke", c.color).attr("stroke-width", 1.8);
		g.append("text").attr("x", lx + 39).attr("y", k.legY + 7).attr("font-size", 19).text(c.name);
	});
}

drawKM({
	xr: [190.6, 617.4], yr: [1625.3, 1256.3], ax: 169, axEnd: 637, top: 1239, axY: 1643, tickOff: 21,
	xTitleX: 404, xTitleY: 1690, yTitleX: 115, yTitleY: 1442, pX: 199, pY: 1560, pText: "p = 0.00022",
	legX: [262, 422], legY: 1187,
	curves: [
		{ name: "ARNT=High", t: arntHighT, s: arntHighS, cens: arntHighCens, color: "#111", dash: null },
		{ name: "ARNT=Low", t: arntLowT, s: arntLowS, cens: arntLowCens, color: "#8c8c8c", dash: "7,5" }
	]
});
drawKM({
	xr: [196, 622], yr: [2241, 1875], ax: 173, axEnd: 642, top: 1853, axY: 2261, tickOff: 18,
	xTitleX: 407, xTitleY: 2307, yTitleX: 120, yTitleY: 2057, pX: 202, pY: 2180, pText: "p = 0.02",
	legX: [255, 424], legY: 1804,
	curves: [
		{ name: "ERBB2=High", t: erbbHighT, s: erbbHighS, cens: erbbHighCens, color: "#111", dash: null },
		{ name: "ERBB2=Low", t: erbbLowT, s: erbbLowS, cens: erbbLowCens, color: "#8c8c8c", dash: "7,5" }
	]
});

// ---------- fgsea tables ----------
const statScale = d3.scaleLinear().domain(rankKnots).range(statKnots);

function drawGsea(t) {
	let g = svg.append("g");
	let x = d3.scaleLinear().domain([0, 20000]).range(t.xr);
	let hdr = [["Pathway", t.labelR, "end"], ["Gene ranks", t.rankC, "middle"], ["NES", t.nesC, "middle"], ["pval", t.pvalC, "middle"], ["padj", t.padjC, "middle"]];
	hdr.forEach(h => g.append("text").attr("x", h[1]).attr("y", t.headY).attr("text-anchor", h[2]).attr("font-size", 18).text(h[0]));

	t.names.forEach((name, i) => {
		let cy = t.rowY[i];
		g.append("text").attr("x", t.labelR).attr("y", cy + 6.5).attr("text-anchor", "end").attr("font-size", 18).text(name);
		g.append("text").attr("x", t.nesC).attr("y", cy + 6.5).attr("text-anchor", "middle").attr("font-size", 18).text(t.nes[i]);
		g.append("text").attr("x", t.pvalC).attr("y", cy + 6.5).attr("text-anchor", "middle").attr("font-size", 18).text(t.pval[i]);
		g.append("text").attr("x", t.padjC).attr("y", cy + 6.5).attr("text-anchor", "middle").attr("font-size", 18).text(t.padj[i]);
		let base = cy - 3;
		g.selectAll(null).data(t.ranks[i]).enter().append("line")
			.attr("x1", d => x(d)).attr("x2", d => x(d))
			.attr("y1", base).attr("y2", d => base - statScale(d) * 10)
			.attr("stroke", "#000").attr("stroke-width", 1.35);
	});

	rankTicks.forEach(r => {
		g.append("line").attr("x1", x(r)).attr("x2", x(r)).attr("y1", t.tickY).attr("y2", t.tickY + 5)
			.attr("stroke", "#555").attr("stroke-width", 1);
		g.append("text").attr("x", x(r)).attr("y", t.tickY + 18).attr("text-anchor", "middle")
			.attr("font-size", 12.5).attr("fill", "#555").text(r);
	});

	// arrows
	let a = t.arrow, ay = a.y;
	g.append("path").attr("fill", "#7f7f7f")
		.attr("d", `M${a.l},${ay}L${a.l + 25},${ay - 12}V${ay - 4.5}H${a.le}V${ay + 4.5}H${a.l + 25}V${ay + 12}Z`);
	g.append("path").attr("fill", "#7f7f7f")
		.attr("d", `M${a.r},${ay}L${a.r - 25},${ay - 12}V${ay - 4.5}H${a.rs}V${ay + 4.5}H${a.r - 25}V${ay + 12}Z`);
	g.append("rect").attr("x", a.sep - 1.5).attr("y", ay - 11).attr("width", 3).attr("height", 22).attr("fill", "#7f7f7f");
	g.append("text").attr("x", a.upC).attr("y", a.labY).attr("text-anchor", "middle")
		.attr("font-family", "Lato, 'Open Sans', sans-serif").attr("font-size", 18).text("Up-regulation");
	g.append("text").attr("x", a.downC).attr("y", a.labY).attr("text-anchor", "middle")
		.attr("font-family", "Lato, 'Open Sans', sans-serif").attr("font-size", 18).text("Down-regulation");
}

drawGsea({
	xr: [1315, 1577.6], headY: 1274, rowY: [1317, 1366, 1415], labelR: 1285, rankC: 1472, nesC: 1676, pvalC: 1783, padjC: 1911,
	tickY: 1443, names: dPathways, nes: dNES, pval: dPval, padj: dPadj, ranks: dRanks,
	arrow: { y: 1479, l: 1336, le: 1482, sep: 1487, rs: 1492, r: 1636, upC: 1413, downC: 1561, labY: 1516 }
});
drawGsea({
	xr: [1325, 1581], headY: 1835, rowY: [1873, 1917, 1961], labelR: 1294, rankC: 1478, nesC: 1677, pvalC: 1783, padjC: 1907,
	tickY: 1984, names: fPathways, nes: fNES, pval: fPval, padj: fPadj, ranks: fRanks,
	arrow: { y: 2035, l: 1340, le: 1477, sep: 1483, rs: 1490, r: 1627, upC: 1420, downC: 1562, labY: 2072 }
});

// ---------- panel letters ----------
const letters = [["A", 0, 115], ["B", 2, 640], ["C", 0, 1260], ["D", 833, 1258], ["E", 0, 1757], ["F", 834, 1757]];
letters.forEach(l => {
	svg.append("text").attr("x", l[1]).attr("y", l[2]).attr("font-family", "'Open Sans', Lato, sans-serif")
		.attr("font-weight", "bold").attr("font-size", 74).text(l[0]);
});
</script>
</body>
</html>
